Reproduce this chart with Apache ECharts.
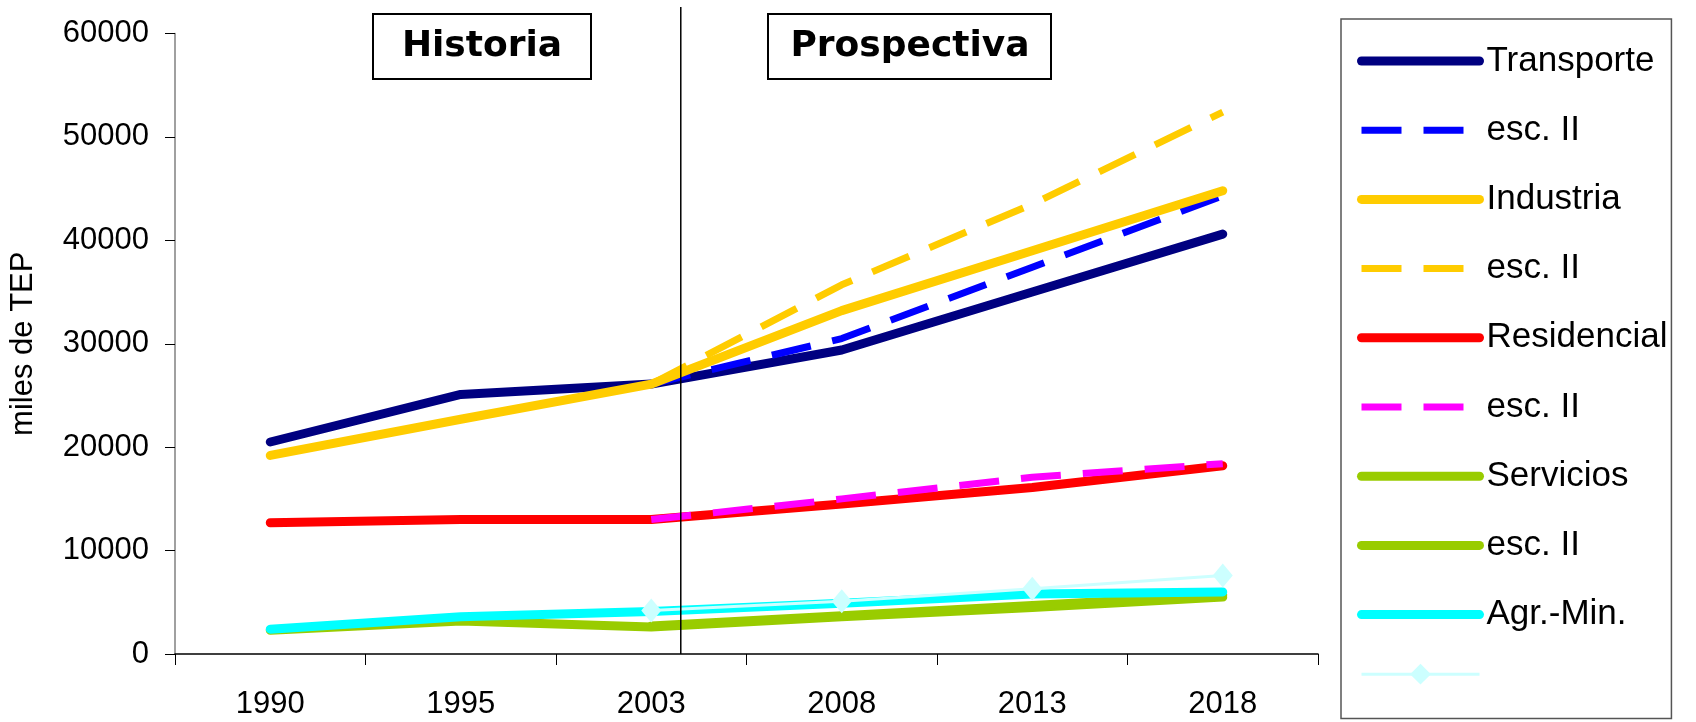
<!DOCTYPE html>
<html>
<head>
<meta charset="utf-8">
<script src="https://cdn.jsdelivr.net/npm/echarts@6/dist/echarts.min.js"></script>
<style>
  html, body { margin: 0; padding: 0; background: #ffffff; }
  #chart { width: 1696px; height: 722px; }
</style>
</head>
<body>
<div id="chart"></div>
<script>
// ---- data ----
const years = ['1990', '1995', '2003', '2008', '2013', '2018'];
const transporte      = [20500, 25100, 26100, 29400, 35000, 40600];
const transporteEsc2  = [null, null, 26100, 30500, 37400, 44300];
const industria       = [19200, 22700, 26100, 33200, 39000, 44800];
const industriaEsc2   = [null, null, 26100, 35700, 43500, 52400];
const residencial     = [12700, 13000, 13000, 14500, 16100, 18200];
const residencialEsc2 = [null, null, 13000, 15000, 17100, 18400];
const servicios       = [2300, 3200, 2600, 3600, 4500, 5500];
const serviciosEsc2   = [null, null, 2700, 3700, 4700, 5700];
const agrMin          = [2400, 3600, 4100, 4900, 5800, 6000];
const agrMinEsc2      = [null, null, 4200, 5100, 6300, 7600];

const seriesNames = ['Transporte', 'Transporte esc. II', 'Industria', 'Industria esc. II',
  'Residencial', 'Residencial esc. II', 'Servicios', 'Servicios esc. II', 'Agr.-Min.', 'Agr.-Min. esc. II'];
const legendLabels = ['Transporte', 'esc. II', 'Industria', 'esc. II', 'Residencial', 'esc. II',
  'Servicios', 'esc. II', 'Agr.-Min.', ''];
const yTicks = [0, 10000, 20000, 30000, 40000, 50000, 60000];
const periodLabels = ['Historia', 'Prospectiva'];
const yAxisTitle = 'miles de TEP';

const chart = echarts.init(document.getElementById('chart'), null, { renderer: 'canvas' });

function solid(name, data, color) {
  return {
    name: name, type: 'line', data: data, symbol: 'none',
    lineStyle: { color: color, width: 9, cap: 'round', join: 'round' },
    itemStyle: { color: color }, silent: true
  };
}
function dashed(name, data, color) {
  return {
    name: name, type: 'line', data: data, symbol: 'none',
    lineStyle: { color: color, width: 7, type: [40, 22], cap: 'butt', join: 'round' },
    itemStyle: { color: color }, silent: true
  };
}

const series = [
  solid(seriesNames[0], transporte, '#000080'),
  dashed(seriesNames[1], transporteEsc2, '#0000FF'),
  solid(seriesNames[2], industria, '#FFCC00'),
  dashed(seriesNames[3], industriaEsc2, '#FFCC00'),
  solid(seriesNames[4], residencial, '#FF0000'),
  dashed(seriesNames[5], residencialEsc2, '#FF00FF'),
  solid(seriesNames[6], servicios, '#99CC00'),
  solid(seriesNames[7], serviciosEsc2, '#99CC00'),
  solid(seriesNames[8], agrMin, '#00FFFF'),
  {
    name: seriesNames[9], type: 'line', data: agrMinEsc2,
    symbol: 'diamond', symbolSize: [20, 24], showSymbol: true,
    lineStyle: { color: '#CCFFFF', width: 3 },
    itemStyle: { color: '#CCFFFF' }, silent: true
  }
];

const legendData = seriesNames.map(function (n, i) {
  const s = series[i];
  const item = {
    name: n,
    lineStyle: { width: s.lineStyle.width, type: s.lineStyle.type || 'solid', cap: s.lineStyle.cap || 'butt', color: s.lineStyle.color }
  };
  if (s.symbol === 'none') item.itemStyle = { opacity: 0 };
  return item;
});

const option = {
  animation: false,
  backgroundColor: '#ffffff',
  grid: { left: 173, right: 378, top: 33.5, bottom: 68, containLabel: false },
  legend: {
    orient: 'vertical', left: 1341, top: 19,
    data: legendData,
    formatter: function (name) { return legendLabels[seriesNames.indexOf(name)]; },
    itemWidth: 118, itemHeight: 26, itemGap: 29.2,
    padding: [22, 4, 34, 16],
    borderColor: '#555555', borderWidth: 1.5,
    selectedMode: false,
    textStyle: { color: '#000000', fontFamily: 'Liberation Sans, Arial, sans-serif', fontSize: 35, lineHeight: 40,
      padding: [0, 0, 0, 2] }
  },
  xAxis: {
    type: 'category', data: years, boundaryGap: true,
    axisLine: { show: true, lineStyle: { color: '#000000', width: 1.5 } },
    axisTick: { show: true, length: 11, inside: false, lineStyle: { color: '#000000', width: 1 } },
    axisLabel: { color: '#000000', fontFamily: 'Liberation Sans, Arial, sans-serif', fontSize: 31, margin: 35 },
    splitLine: { show: false }
  },
  yAxis: {
    type: 'value', min: yTicks[0], max: yTicks[yTicks.length - 1], interval: yTicks[1] - yTicks[0],
    name: yAxisTitle, nameLocation: 'middle', nameRotate: 90, nameGap: 136,
    nameTextStyle: { color: '#000000', fontFamily: 'Liberation Sans, Arial, sans-serif', fontSize: 31 },
    axisLine: { show: true, lineStyle: { color: '#808080', width: 1.5 } },
    axisTick: { show: true, length: 10, inside: false, lineStyle: { color: '#000000', width: 1 } },
    axisLabel: { color: '#000000', fontFamily: 'Liberation Sans, Arial, sans-serif', fontSize: 31, margin: 26,
      formatter: function (v) { return String(v); } },
    splitLine: { show: false }
  },
  series: series
};

chart.setOption(option);

// Decorations: period divider and period label boxes
const x2003 = chart.convertToPixel({ xAxisIndex: 0 }, years[2]);
const x2008 = chart.convertToPixel({ xAxisIndex: 0 }, years[3]);
const yZero = chart.convertToPixel({ yAxisIndex: 0 }, 0);
const dividerX = x2003 + 0.155 * (x2008 - x2003);

chart.setOption({
  graphic: [
    { type: 'line', silent: true, z: 100,
      shape: { x1: dividerX, y1: 7, x2: dividerX, y2: yZero },
      style: { stroke: '#000000', lineWidth: 1.5 } },
    { type: 'rect', silent: true, z: 100,
      shape: { x: 373, y: 14, width: 218, height: 65 },
      style: { fill: '#ffffff', stroke: '#000000', lineWidth: 2 } },
    { type: 'text', silent: true, z: 101, x: 482, y: 47,
      style: { text: periodLabels[0], fill: '#000000', font: 'bold 36px "DejaVu Sans", sans-serif',
        textAlign: 'center', textVerticalAlign: 'middle' } },
    { type: 'rect', silent: true, z: 100,
      shape: { x: 768, y: 14, width: 283, height: 65 },
      style: { fill: '#ffffff', stroke: '#000000', lineWidth: 2 } },
    { type: 'text', silent: true, z: 101, x: 910, y: 47,
      style: { text: periodLabels[1], fill: '#000000', font: 'bold 36px "DejaVu Sans", sans-serif',
        textAlign: 'center', textVerticalAlign: 'middle' } }
  ]
});
</script>
</body>
</html>
